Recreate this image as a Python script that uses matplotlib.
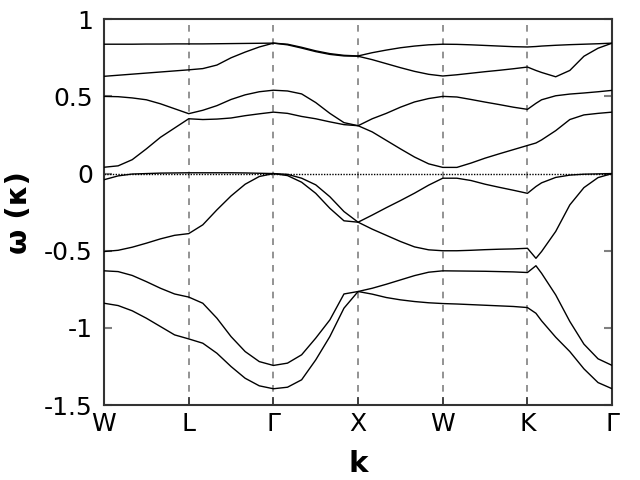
import numpy as np
from matplotlib import pyplot as plt

plt.rcParams['axes.unicode_minus'] = False

# path through the zone, each segment split in sixths (plus one extra point near K)
kpath = [0, 1/6, 2/6, 3/6, 4/6, 5/6,
         1, 7/6, 8/6, 9/6, 10/6, 11/6,
         2, 13/6, 14/6, 15/6, 16/6, 17/6,
         3, 19/6, 20/6, 21/6, 22/6, 23/6,
         4, 25/6, 26/6, 27/6, 28/6, 29/6,
         5, 5.1, 31/6, 32/6, 33/6, 34/6, 35/6, 6]

labels = ['W', 'L', 'Γ', 'X', 'W', 'K', 'Γ']

band_a = [0.838, 0.838, 0.838, 0.839, 0.839, 0.840,
          0.840, 0.840, 0.841, 0.842, 0.843, 0.844,
          0.845, 0.838, 0.818, 0.795, 0.777, 0.766,
          0.762, 0.783, 0.800, 0.815, 0.826, 0.834,
          0.838, 0.837, 0.834, 0.830, 0.826, 0.822,
          0.820, 0.823, 0.826, 0.831, 0.835, 0.838, 0.841, 0.845]

band_b = [0.630, 0.637, 0.644, 0.651, 0.658, 0.665,
          0.672, 0.680, 0.703, 0.750, 0.787, 0.820,
          0.845, 0.834, 0.813, 0.790, 0.772, 0.762,
          0.760, 0.738, 0.712, 0.686, 0.662, 0.643,
          0.632, 0.640, 0.650, 0.660, 0.669, 0.679,
          0.690, 0.668, 0.655, 0.627, 0.668, 0.760, 0.812, 0.845]

band_c = [0.500, 0.498, 0.490, 0.478, 0.452, 0.420,
          0.388, 0.410, 0.440, 0.480, 0.510, 0.530,
          0.540, 0.535, 0.516, 0.460, 0.390, 0.330,
          0.310, 0.355, 0.390, 0.430, 0.464, 0.486,
          0.500, 0.496, 0.480, 0.463, 0.447, 0.430,
          0.416, 0.455, 0.478, 0.504, 0.515, 0.522, 0.530, 0.539]

band_d = [0.041, 0.050, 0.090, 0.160, 0.235, 0.295,
          0.355, 0.350, 0.353, 0.360, 0.375, 0.387,
          0.398, 0.390, 0.370, 0.355, 0.335, 0.317,
          0.310, 0.270, 0.215, 0.160, 0.107, 0.063,
          0.040, 0.040, 0.068, 0.100, 0.128, 0.155,
          0.182, 0.198, 0.218, 0.278, 0.350, 0.380, 0.390, 0.398]

band_e = [-0.040, -0.015, -0.003, 0.000, 0.003, 0.004,
          0.005, 0.005, 0.005, 0.005, 0.004, 0.002,
          0.000, -0.005, -0.030, -0.073, -0.150, -0.246,
          -0.315, -0.269, -0.221, -0.175, -0.127, -0.075,
          -0.030, -0.030, -0.045, -0.069, -0.089, -0.108,
          -0.128, -0.084, -0.060, -0.025, -0.010, -0.004, -0.002, 0.000]

band_f = [-0.505, -0.497, -0.477, -0.451, -0.423, -0.400,
          -0.389, -0.332, -0.235, -0.145, -0.069, -0.019,
          0.000, -0.013, -0.056, -0.128, -0.225, -0.306,
          -0.315, -0.360, -0.400, -0.440, -0.475, -0.494,
          -0.500, -0.500, -0.497, -0.493, -0.490, -0.488,
          -0.484, -0.549, -0.505, -0.375, -0.203, -0.091, -0.026, 0.000]

band_g = [-0.630, -0.635, -0.660, -0.700, -0.743, -0.780,
          -0.800, -0.840, -0.937, -1.056, -1.153, -1.218,
          -1.243, -1.228, -1.174, -1.066, -0.948, -0.780,
          -0.764, -0.743, -0.717, -0.689, -0.661, -0.639,
          -0.630, -0.631, -0.632, -0.633, -0.635, -0.637,
          -0.641, -0.597, -0.646, -0.786, -0.958, -1.105, -1.200, -1.243]

band_h = [-0.840, -0.855, -0.889, -0.937, -0.991, -1.045,
          -1.071, -1.099, -1.164, -1.250, -1.326, -1.375,
          -1.394, -1.384, -1.336, -1.207, -1.056, -0.872,
          -0.764, -0.781, -0.803, -0.818, -0.829, -0.837,
          -0.842, -0.845, -0.849, -0.853, -0.857, -0.861,
          -0.868, -0.905, -0.954, -1.060, -1.153, -1.265, -1.354, -1.394]


def main():
    fig = plt.figure(figsize=(6.4, 4.8), dpi=100)
    ax = fig.add_axes([0.1625, 0.156, 0.794, 0.804])

    for k in range(1, len(labels) - 1):
        ax.axvline(k, color='#808080', ls=(0, (4, 4)), lw=1.2, zorder=1)
    ax.axhline(0, color='black', ls=(0, (1, 1)), lw=1.0, zorder=2)

    for band in [band_a, band_b, band_c, band_d, band_e, band_f, band_g, band_h]:
        ax.plot(kpath, band, 'k-', lw=1.0, zorder=3)

    ax.set_xlim(0, len(labels) - 1)
    ax.set_ylim(-1.5, 1)
    ax.set_xticks(range(len(labels)))
    ax.set_xticklabels(labels)
    ax.set_yticks([1, 0.5, 0, -0.5, -1, -1.5])
    ax.set_yticklabels(['1', '0.5', '0', '-0.5', '-1', '-1.5'])
    ax.tick_params(axis='both', labelsize=18, direction='in')
    ax.tick_params(axis='y', color='#808080', length=6, width=1.5, right=True, pad=8)
    ax.tick_params(axis='x', color='#333333', length=6, width=1.2, pad=5)
    for s in ax.spines.values():
        s.set_color('#333333')
        s.set_linewidth(1.5)

    ax.set_xlabel('k', fontsize=21, fontweight='bold', labelpad=10)
    ax.set_ylabel('ω (κ)', fontsize=21, fontweight='bold', labelpad=8)

    fig.savefig('out.png')


if __name__ == '__main__':
    main()
